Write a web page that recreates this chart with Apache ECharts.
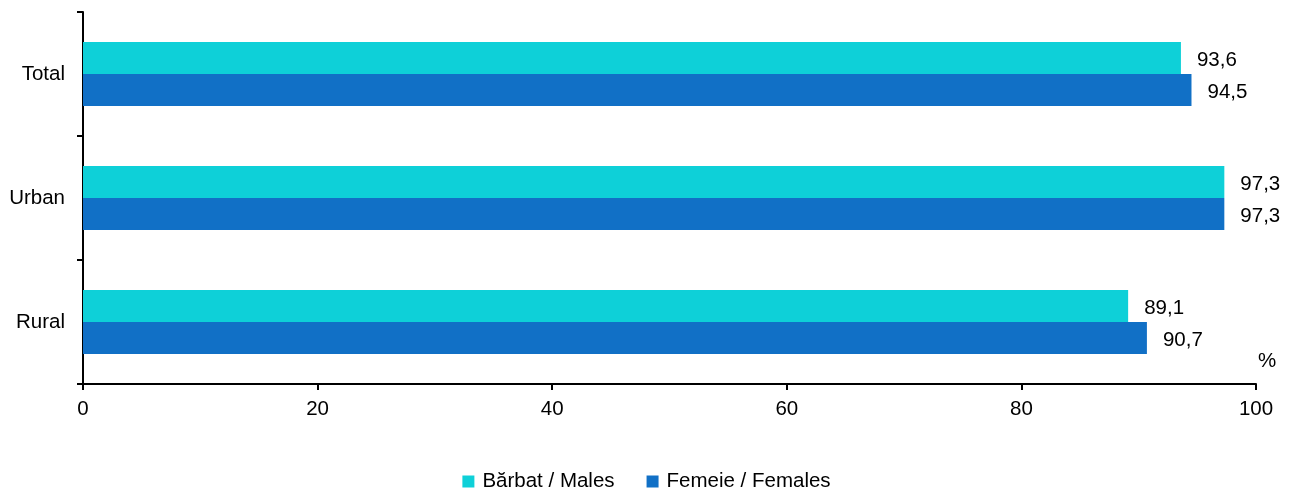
<!DOCTYPE html>
<html><head><meta charset="utf-8">
<script src="https://cdn.jsdelivr.net/npm/echarts@6/dist/echarts.min.js"></script>
<style>html,body{margin:0;padding:0;background:#fff}#c{width:1293px;height:490px}</style>
</head><body><div id="c"></div>
<script>
const categories = ['Total', 'Urban', 'Rural'];
const males = [93.6, 97.3, 89.1];
const females = [94.5, 97.3, 90.7];
const seriesNames = ['Bărbat / Males', 'Femeie / Females'];
const xTicks = [0, 20, 40, 60, 80, 100];

const FONT = '"Liberation Sans", Arial, sans-serif';
const FS = 20.5;
const fmt = p => p.value.toFixed(1).replace('.', ',');
const chart = echarts.init(document.getElementById('c'));
chart.setOption({
  animation: false,
  textStyle: { fontFamily: FONT },
  grid: { left: 83, right: 37, top: 12, bottom: 106, containLabel: false },
  legend: {
    left: 'center', top: 471, padding: 0,
    itemWidth: 12, itemHeight: 12, itemGap: 32,
    icon: 'rect',
    textStyle: { fontFamily: FONT, fontSize: FS, color: '#000', padding: [3, 0, 0, 3] },
    data: seriesNames
  },
  xAxis: {
    type: 'value', min: xTicks[0], max: xTicks[xTicks.length - 1], interval: 20,
    axisLine: { show: true, lineStyle: { color: '#000', width: 2 } },
    axisTick: { show: true, length: 6, lineStyle: { color: '#000', width: 2 } },
    axisLabel: { color: '#000', fontSize: FS, fontFamily: FONT, margin: 15 },
    splitLine: { show: false }
  },
  yAxis: {
    type: 'category', data: categories, inverse: true,
    axisLine: { show: true, lineStyle: { color: '#000', width: 2 } },
    axisTick: { show: true, length: 6, alignWithLabel: false, lineStyle: { color: '#000', width: 2 } },
    axisLabel: { color: '#000', fontSize: FS, fontFamily: FONT, margin: 18, padding: [3, 0, 0, 0] }
  },
  series: [
    {
      name: seriesNames[0], type: 'bar', data: males, barWidth: 32, barGap: '0%',
      itemStyle: { color: '#0ED0D8' },
      label: { show: true, position: 'right', distance: 16, offset: [0, 2], color: '#000', fontSize: FS, fontFamily: FONT, formatter: fmt }
    },
    {
      name: seriesNames[1], type: 'bar', data: females, barWidth: 32, barGap: '0%',
      itemStyle: { color: '#1170C6' },
      label: { show: true, position: 'right', distance: 16, offset: [0, 2], color: '#000', fontSize: FS, fontFamily: FONT, formatter: fmt }
    }
  ],
  graphic: [{
    type: 'text', left: 1258, top: 351,
    style: { text: '%', fontSize: FS, fontFamily: FONT, fill: '#000' }
  }]
});
</script></body></html>
